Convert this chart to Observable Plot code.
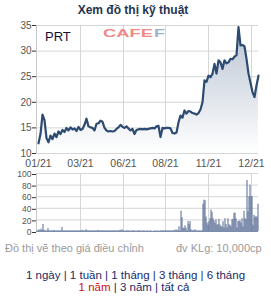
<!DOCTYPE html>
<html><head><meta charset="utf-8">
<script src="https://cdn.jsdelivr.net/npm/d3@7"></script>
<script src="https://cdn.jsdelivr.net/npm/@observablehq/plot@0.6"></script>
<style>
html,body{margin:0;padding:0;background:#fff;}
#wrap{position:relative;width:271px;height:300px;overflow:hidden;font-family:"Liberation Sans",Arial,sans-serif;}
.abs{position:absolute;}
#title{top:3px;left:0;width:266px;text-align:center;font-weight:bold;font-size:12px;color:#1f3550;}
#sym{top:29px;left:45px;font-size:13px;color:#111133;}
#note1{top:242px;left:5px;font-size:11px;color:#9a9a9a;}
#note2{top:242px;left:176px;font-size:11px;color:#9a9a9a;}
#links1{top:269px;left:0;width:271px;text-align:center;font-size:11.5px;color:#1a2a66;}
#links2{top:281px;left:0;width:268px;text-align:center;font-size:11.5px;color:#1a2a66;}
.red{color:#cc1111;}
</style></head>
<body><div id="wrap">
<div id="title" class="abs">Xem đồ thị kỹ thuật</div>
<div id="price" class="abs" style="top:0;left:0"></div>
<div id="vol" class="abs" style="top:166px;left:0"></div>
<div id="sym" class="abs">PRT</div>
<svg class="abs" style="top:27px;left:103px" width="64" height="12"><text x="0" y="9.5" textLength="50" lengthAdjust="spacingAndGlyphs" font-family="Liberation Sans, Arial" font-weight="bold" font-size="10" fill="#ee8a8a">CAFE</text><text x="51" y="9.5" textLength="11" lengthAdjust="spacingAndGlyphs" font-family="Liberation Sans, Arial" font-weight="bold" font-size="10" fill="#9fb0cc">F</text></svg>
<div id="note1" class="abs">Đồ thị vẽ theo giá điều chỉnh</div>
<div id="note2" class="abs">đv KLg: 10,000cp</div>
<div id="links1" class="abs">1 ngày | 1 tuần | 1 tháng | 3 tháng | 6 tháng</div>
<div id="links2" class="abs"><span class="red">1 năm</span> | 3 năm | tất cả</div>
</div>
<script>
// tick labels and their trading-day index
const tickLabels = ["01/21","03/21","06/21","08/21","11/21","12/21"];
const tickIdx = [0, 42, 85, 127, 170, 213];

// closing price (thousand VND), one value every 2 trading-day steps
const price = [
12.0,13.8,17.6,16.5,13.0,12.2,13.5,12.8,13.9,13.2,
14.3,13.8,14.6,14.2,15.0,14.5,15.1,14.7,14.9,14.4,
15.2,14.6,14.8,15.6,16.8,15.3,15.1,15.0,14.5,15.8,
15.9,16.4,16.2,15.0,14.5,14.3,14.4,14.3,14.4,14.8,
15.1,15.6,15.2,15.0,15.3,14.9,14.5,14.8,13.8,14.6,
14.7,14.8,14.7,14.8,14.7,14.8,14.9,15.0,14.9,15.3,
15.4,13.2,15.0,14.9,15.0,15.0,14.9,14.0,13.9,14.1,
16.1,17.4,17.0,18.4,17.8,18.3,18.2,17.9,17.8,17.6,
17.9,18.6,20.0,24.3,24.0,25.2,24.9,25.6,27.5,25.6,
28.2,27.8,26.5,28.2,27.6,27.8,28.5,28.4,28.9,29.2,
34.7,31.1,31.2,30.9,28.5,25.6,23.8,22.0,21.0,23.3,
25.2];

// volume (10,000 shares), one value per trading-day step
const volume = [
2,3,1,4,2,12,2,1,1,1,
5,1,1,1,1,1,2,1,1,1,
1,1,1,1,7,1,1,1,1,1,
1,1,1,1,1,1,1,1,1,1,
1,1,1,1,2,1,1,1,3,1,
1,1,1,1,1,1,1,1,1,1,
2,1,1,1,1,1,1,1,1,1,
1,1,1,1,1,1,1,1,1,1,
1,1,2,1,3,1,1,0,1,1,
1,1,0,1,1,1,1,1,0,1,
1,1,1,1,0,1,1,1,0,1,
1,0,1,1,0,0,1,1,0,1,
1,0,1,1,1,1,1,1,1,1,
1,1,1,1,1,1,2,1,3,1,
2,8,1,35,24,6,5,10,6,1,
17,12,17,3,1,2,1,3,1,1,
1,1,1,1,1,47,54,53,25,15,
11,17,22,37,33,22,18,14,20,11,
12,21,11,8,8,17,6,22,12,6,
22,11,11,8,20,21,31,32,22,6,
17,18,18,14,22,8,35,22,20,88,
34,60,80,60,60,11,28,25,25,25,47];

const priceData = price.map((p, i) => ({i: i * 2, p}));
const volData = volume.map((v, i) => ({i, v}));
const xDomain = [-2, 220];

const pricePlot = Plot.plot({
  width: 271, height: 172,
  marginLeft: 36, marginRight: 13, marginTop: 25, marginBottom: 19,
  style: {fontFamily: "Liberation Sans, Arial, sans-serif", fontSize: "10px", background: "transparent"},
  x: {domain: xDomain, label: null},
  y: {domain: [10, 35], label: null},
  marks: [
    Plot.gridY([10,15,20,25,30,35], {stroke: "#d6d6d6", strokeOpacity: 1}),
    Plot.gridX(tickIdx.slice(1), {stroke: "#d6d6d6", strokeOpacity: 1}),
    Plot.ruleX([-2], {stroke: "#c8c8c8"}),
    Plot.areaY(priceData, {x: "i", y1: 10, y2: "p", fill: "url(#pgrad)"}),
    Plot.lineY(priceData, {x: "i", y: "p", stroke: "#2d4b70", strokeWidth: 2.2, curve: "linear"}),
    Plot.axisY([10,15,20,25,30,35], {tickSize: 4, tickPadding: 1, stroke: "#333", fill: "#555", fontSize: 10, label: null}),
    Plot.axisX(tickIdx, {tickSize: 0, tickPadding: 6, fill: "#555", fontSize: 10.5, label: null,
      tickFormat: t => tickLabels[tickIdx.indexOf(t)]})
  ]
});
const svgp = d3.select(pricePlot);
const grad = svgp.insert("defs", ":first-child").append("linearGradient")
  .attr("id", "pgrad").attr("x1", 0).attr("y1", 0).attr("x2", 0).attr("y2", 1);
grad.append("stop").attr("offset", "0%").attr("stop-color", "#b9c4d3");
grad.append("stop").attr("offset", "100%").attr("stop-color", "#ffffff");
document.getElementById("price").appendChild(pricePlot);

const volPlot = Plot.plot({
  width: 271, height: 74,
  marginLeft: 36, marginRight: 13, marginTop: 7, marginBottom: 9,
  style: {fontFamily: "Liberation Sans, Arial, sans-serif", fontSize: "9px", background: "transparent"},
  x: {domain: xDomain, axis: null},
  y: {domain: [0, 100], label: null},
  marks: [
    Plot.gridY([20,40,60,80,100], {stroke: "#d6d6d6", strokeOpacity: 1}),
    Plot.gridX(tickIdx.slice(1), {stroke: "#d6d6d6", strokeOpacity: 1}),
    Plot.ruleX([-2], {stroke: "#c8c8c8"}),
    Plot.rectY(volData, {x1: d => d.i - 0.5, x2: d => d.i + 0.5, y: "v", fill: "#566a93"}),
    Plot.ruleY([0], {stroke: "#7c8cab", strokeWidth: 1}),
    Plot.axisY([0,20,40,60,80,100], {tickSize: 4, tickPadding: 1, stroke: "#333", fill: "#555", fontSize: 8.5, dy: 1, label: null})
  ]
});
document.getElementById("vol").appendChild(volPlot);
</script>
</body></html>
